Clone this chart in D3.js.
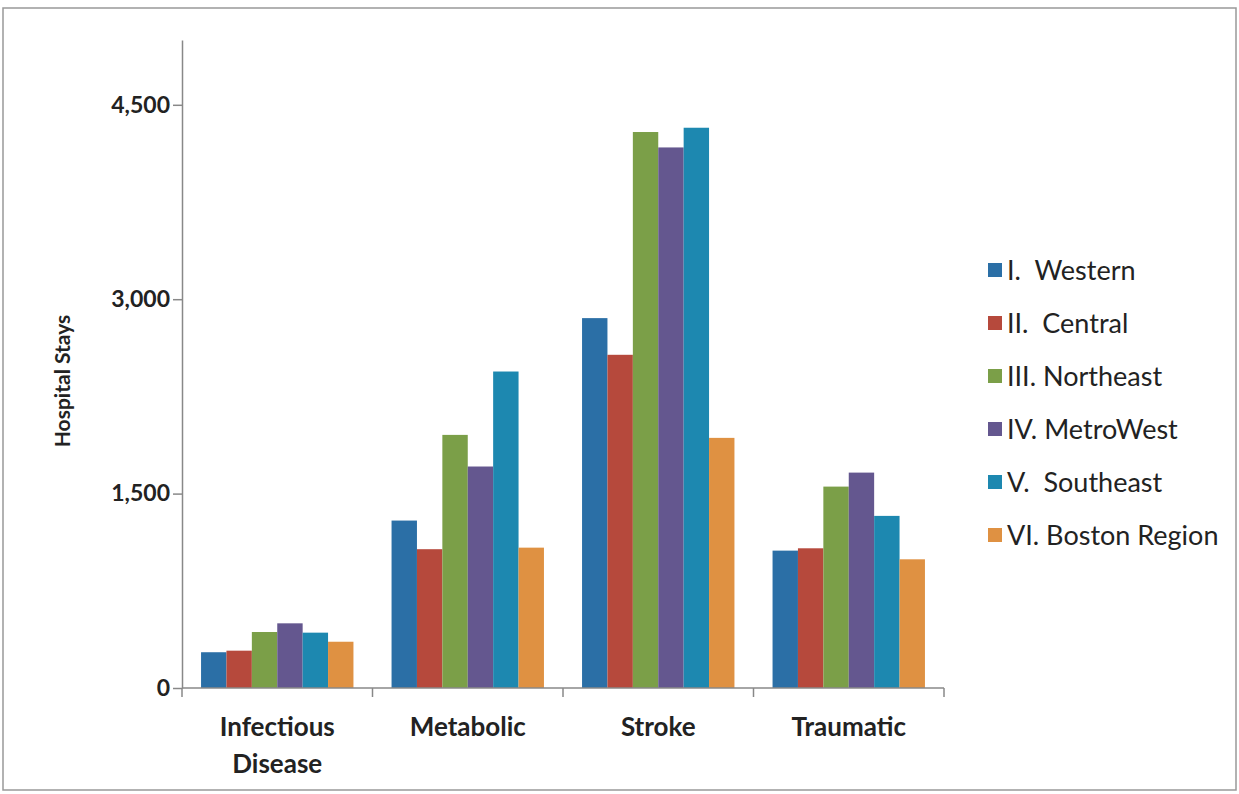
<!DOCTYPE html>
<html>
<head>
<meta charset="utf-8">
<script src="https://cdn.jsdelivr.net/npm/d3@7"></script>
<style>
  body { margin: 0; background: #fff; }
  text { font-family: Lato, "Open Sans", sans-serif; }
</style>
</head>
<body>
<svg id="chart" width="1239" height="794"></svg>
<script>
// categories, series and values
var categories = [["Infectious", "Disease"], ["Metabolic"], ["Stroke"], ["Traumatic"]];
var regions = ["I.  Western", "II.  Central", "III. Northeast", "IV. MetroWest", "V.  Southeast", "VI. Boston Region"];
var regionColors = ["#2b6fa6", "#b6493c", "#7b9f48", "#64578f", "#1d88b0", "#df9142"];
var infectious = [276, 288, 432, 499, 427, 357];
var metabolic = [1292, 1071, 1953, 1709, 2442, 1083];
var stroke = [2854, 2571, 4290, 4171, 4323, 1930];
var traumatic = [1060, 1078, 1554, 1662, 1328, 993];
var yTicks = [0, 1500, 3000, 4500];

var groups = [infectious, metabolic, stroke, traumatic];

var svg = d3.select("#chart");

// frame round the whole thing
svg.append("rect")
  .attr("x", 3).attr("y", 8)
  .attr("width", 1233).attr("height", 782)
  .attr("fill", "none")
  .attr("stroke", "#999")
  .attr("stroke-width", 1.5);

var plotLeft = 182, plotRight = 944, plotTop = 40, plotBottom = 688;

var x0 = d3.scaleBand()
  .domain(d3.range(categories.length))
  .range([plotLeft, plotRight])
  .paddingInner(0.2)
  .paddingOuter(0.1);

var x1 = d3.scaleBand()
  .domain(d3.range(regions.length))
  .range([0, x0.bandwidth()]);

var y = d3.scaleLinear()
  .domain([0, 5000])
  .range([plotBottom, plotTop]);

// bars
var g = svg.selectAll(".grp")
  .data(groups)
  .enter()
  .append("g")
  .attr("class", "grp")
  .attr("transform", function(d, i) { return "translate(" + x0(i) + ",0)"; });

g.selectAll("rect")
  .data(function(d) { return d; })
  .enter()
  .append("rect")
  .attr("x", function(d, i) { return x1(i); })
  .attr("y", function(d) { return y(d); })
  .attr("width", x1.bandwidth())
  .attr("height", function(d) { return plotBottom - y(d); })
  .attr("fill", function(d, i) { return regionColors[i]; });

// y axis
var yAxis = d3.axisLeft(y)
  .tickValues(yTicks)
  .tickFormat(d3.format(","))
  .tickSize(9)
  .tickSizeOuter(0);

var ya = svg.append("g")
  .attr("transform", "translate(" + plotLeft + ",0)")
  .call(yAxis);
ya.select(".domain").attr("stroke", "#888").attr("stroke-width", 1.5);
ya.selectAll(".tick line").attr("stroke", "#888").attr("stroke-width", 1.5);
ya.selectAll(".tick text")
  .attr("x", -12)
  .attr("font-size", 23)
  .attr("font-weight", "bold")
  .attr("fill", "#222")
  .style("font-family", "Lato, sans-serif");

// x axis, ticks between the groups
var xEdges = d3.range(categories.length + 1).map(function(i) {
  return plotLeft + i * x0.step();
});
svg.append("line")
  .attr("x1", plotLeft).attr("x2", plotRight)
  .attr("y1", plotBottom).attr("y2", plotBottom)
  .attr("stroke", "#888").attr("stroke-width", 1.5);
svg.selectAll(".xtick")
  .data(xEdges)
  .enter()
  .append("line")
  .attr("class", "xtick")
  .attr("x1", function(d) { return d; }).attr("x2", function(d) { return d; })
  .attr("y1", plotBottom).attr("y2", plotBottom + 9)
  .attr("stroke", "#888").attr("stroke-width", 1.5);

var xl = svg.selectAll(".xlab")
  .data(categories)
  .enter()
  .append("text")
  .attr("class", "xlab")
  .attr("text-anchor", "middle")
  .attr("font-size", 26)
  .attr("font-weight", "bold")
  .attr("fill", "#222")
  .attr("transform", function(d, i) { return "translate(" + (x0(i) + x0.bandwidth() / 2) + ",736)"; });
xl.selectAll("tspan")
  .data(function(d) { return d; })
  .enter()
  .append("tspan")
  .attr("x", 0)
  .attr("dy", function(d, i) { return i == 0 ? 0 : 37; })
  .text(function(d) { return d; });

// axis title
svg.append("text")
  .attr("transform", "translate(70,381) rotate(-90)")
  .attr("text-anchor", "middle")
  .attr("font-size", 21)
  .attr("font-weight", "bold")
  .attr("fill", "#222")
  .text("Hospital Stays");

// legend
var legend = svg.selectAll(".leg")
  .data(regions)
  .enter()
  .append("g")
  .attr("class", "leg")
  .attr("transform", function(d, i) { return "translate(988," + (270 + i * 53) + ")"; });
legend.append("rect")
  .attr("x", 0).attr("y", -7)
  .attr("width", 14).attr("height", 14)
  .attr("fill", function(d, i) { return regionColors[i]; });
legend.append("text")
  .attr("x", 19)
  .attr("dy", "0.36em")
  .attr("font-size", 27)
  .attr("fill", "#222")
  .style("white-space", "pre")
  .text(function(d) { return d; });
</script>
</body>
</html>
